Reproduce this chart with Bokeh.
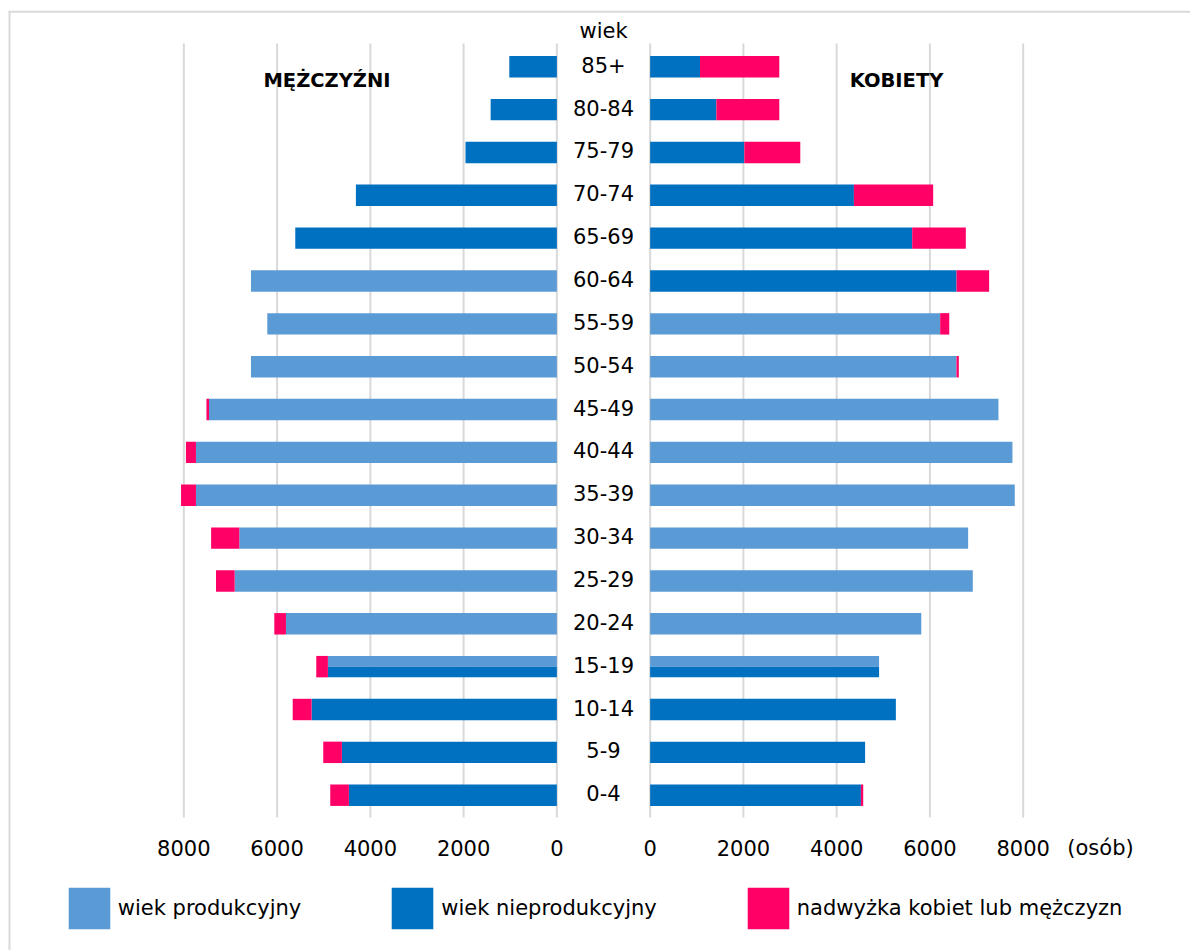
from bokeh.plotting import figure
from bokeh.models import Range1d, Legend, LegendItem, ColumnDataSource
from bokeh.core.properties import value
from bokeh.embed import file_html
from bokeh.resources import INLINE

# ---------------- data (bottom row first) ----------------
age_groups = ["0-4", "5-9", "10-14", "15-19", "20-24", "25-29", "30-34", "35-39", "40-44",
              "45-49", "50-54", "55-59", "60-64", "65-69", "70-74", "75-79", "80-84", "85+"]

men_productive = [0, 0, 0, 4910, 5810, 6910, 6810, 7740, 7740, 7460, 6560, 6210, 6560, 0, 0, 0, 0, 0]
men_nonproductive = [4460, 4610, 5260, 4910, 0, 0, 0, 0, 0, 0, 0, 0, 0, 5610, 4310, 1960, 1420, 1020]
men_excess = [400, 400, 405, 250, 250, 400, 605, 320, 215, 55, 0, 0, 0, 0, 0, 0, 0, 0]

women_productive = [0, 0, 0, 4910, 5815, 6920, 6820, 7820, 7770, 7470, 6570, 6220, 0, 0, 0, 0, 0, 0]
women_nonproductive = [4520, 4610, 5270, 4910, 0, 0, 0, 0, 0, 0, 0, 0, 6570, 5620, 4370, 2020, 1420, 1070]
women_excess = [50, 0, 0, 0, 0, 0, 0, 0, 0, 0, 50, 195, 700, 1150, 1700, 1200, 1350, 1700]

tick_values = [0, 2000, 4000, 6000, 8000]
unit_label = "(osób)"
legend_labels = ["wiek produkcyjny", "wiek nieprodukcyjny", "nadwyżka kobiet lub mężczyzn"]
side_titles = ["MĘŻCZYŹNI", "KOBIETY"]
age_title = "wiek"

# ---------------- style / layout ----------------
C_PROD = "#5B9BD5"
C_NONPROD = "#0070C0"
C_EXCESS = "#FF0066"
GRID = "#D9D9D9"
FONT = "DejaVu Sans"

W, H = 1190, 950
GAP = 1000                  # half of the central gap, in data units
K = 46.63 / 1000.0          # px per data unit
CX = 603.0                  # page x of gap centre
ROW = 42.85                 # px per row
Y0 = 794.7                  # page y of the bottom row centre
BAR_H = 0.50


def px_x(px):
    return (px - CX) / K


def px_y(py):
    return (Y0 - py) / ROW


p = figure(width=W, height=H, output_backend="svg", toolbar_location=None,
           x_range=Range1d(px_x(0), px_x(W)), y_range=Range1d(px_y(H), px_y(0)),
           x_axis_location=None, y_axis_location=None,
           min_border_left=0, min_border_right=0, min_border_top=0, min_border_bottom=0,
           outline_line_color=None, background_fill_color="white", border_fill_color="white")
p.xgrid.visible = False
p.ygrid.visible = False

n = len(age_groups)
idx = list(range(n))

# chart-area border (top and left)
p.segment(x0=[px_x(8), px_x(9)], x1=[px_x(W), px_x(9)], y0=[px_y(11.3), px_y(11.3)],
          y1=[px_y(11.3), px_y(H)], line_color=GRID, line_width=2)

# gridlines
gx = [-(GAP + t) for t in tick_values] + [GAP + t for t in tick_values]
p.segment(x0=gx, x1=gx, y0=[px_y(817)] * len(gx), y1=[px_y(43)] * len(gx), line_color=GRID, line_width=2)


def bars(sgn, prod, nonprod, excess):
    lp = dict(y=[], h=[], a=[], b=[])
    ln = dict(y=[], h=[], a=[], b=[])
    le = dict(y=[], h=[], a=[], b=[])
    for i in idx:
        both = prod[i] > 0 and nonprod[i] > 0
        if prod[i] > 0:
            lp["y"].append(i + (BAR_H / 4 if both else 0))
            lp["h"].append(BAR_H / 2 if both else BAR_H)
            lp["a"].append(sgn * GAP)
            lp["b"].append(sgn * (GAP + prod[i]))
        if nonprod[i] > 0:
            ln["y"].append(i - (BAR_H / 4 if both else 0))
            ln["h"].append(BAR_H / 2 if both else BAR_H)
            ln["a"].append(sgn * GAP)
            ln["b"].append(sgn * (GAP + nonprod[i]))
        if excess[i] > 0:
            base = max(prod[i], nonprod[i])
            le["y"].append(i)
            le["h"].append(BAR_H)
            le["a"].append(sgn * (GAP + base))
            le["b"].append(sgn * (GAP + base + excess[i]))
    out = []
    for d, c in ((lp, C_PROD), (ln, C_NONPROD), (le, C_EXCESS)):
        src = ColumnDataSource(dict(y=d["y"], h=d["h"],
                                    l=[min(a, b) for a, b in zip(d["a"], d["b"])],
                                    r=[max(a, b) for a, b in zip(d["a"], d["b"])]))
        out.append(p.hbar(y="y", height="h", left="l", right="r", source=src,
                          fill_color=c, line_color=None))
    return out


rm = bars(-1, men_productive, men_nonproductive, men_excess)
rw = bars(1, women_productive, women_nonproductive, women_excess)

TXT = dict(text_align="center", text_baseline="middle", text_font=value(FONT), text_color="black")

# central age labels
p.text(x=[0] * n, y=[i + 2 / ROW for i in idx], text=age_groups, text_font_size="21px", **TXT)
p.text(x=[0], y=[px_y(30)], text=[age_title], text_font_size="21px", **TXT)
# side titles
p.text(x=[px_x(326.5), px_x(896)], y=[px_y(80), px_y(80)], text=side_titles,
       text_font_size="19.5px", text_font_style="bold", **TXT)

# value-axis tick labels
tick_x = [-(GAP + t) for t in tick_values] + [GAP + t for t in tick_values]
tick_txt = [str(t) for t in tick_values] * 2
p.text(x=tick_x, y=[px_y(847)] * len(tick_x), text=tick_txt, text_font_size="21px", **TXT)
p.text(x=[px_x(1100)], y=[px_y(847)], text=[unit_label], text_font_size="21px", **TXT)

legend = Legend(items=[LegendItem(label=legend_labels[0], renderers=[rm[0]]),
                       LegendItem(label=legend_labels[1], renderers=[rm[1]]),
                       LegendItem(label=legend_labels[2], renderers=[rm[2]])],
                orientation="horizontal", location=(62.8, H - 934),
                glyph_width=52, glyph_height=52, label_standoff=3, spacing=85,
                margin=0, padding=0, border_line_color=None, background_fill_alpha=0,
                label_text_font=FONT, label_text_font_size="21px", label_text_color="black")
p.add_layout(legend)

open("out.html", "w").write(file_html(p, INLINE))
